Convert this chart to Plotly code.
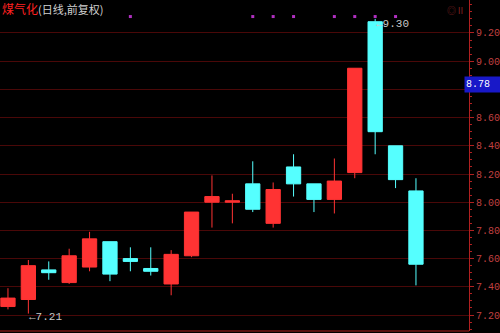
import plotly.graph_objects as go

days = list(range(21))
opens  = [7.26, 7.31, 7.52, 7.43, 7.54, 7.72, 7.60, 7.53, 7.42, 7.62, 8.00, 8.00, 8.13, 7.85, 8.25, 8.13, 8.02, 8.21, 9.28, 8.40, 8.08]
highs  = [7.39, 7.59, 7.58, 7.67, 7.79, 7.72, 7.68, 7.68, 7.66, 7.93, 8.19, 8.06, 8.29, 8.14, 8.34, 8.13, 8.31, 8.95, 9.30, 8.40, 8.17]
lows   = [7.24, 7.21, 7.45, 7.42, 7.51, 7.44, 7.51, 7.48, 7.34, 7.61, 7.82, 7.85, 7.93, 7.82, 8.04, 7.93, 7.92, 8.17, 8.34, 8.10, 7.41]
closes = [7.32, 7.55, 7.50, 7.62, 7.74, 7.49, 7.58, 7.51, 7.63, 7.93, 8.04, 8.01, 7.95, 8.09, 8.13, 8.02, 8.15, 8.95, 8.50, 8.16, 7.56]
marker_days = [6, 12, 13, 14, 16, 17, 18, 19]
tick_vals = [7.20, 7.40, 7.60, 7.80, 8.00, 8.20, 8.40, 8.60, 8.80, 9.00, 9.20]
# 8.80 label is hidden under the current-price box in the reference
tick_text = ["7.20", "7.40", "7.60", "7.80", "8.00", "8.20", "8.40", "8.60", "", "9.00", "9.20"]
current_price = 8.78
max_day, max_price = 18, 9.30
min_day, min_price = 1, 7.21
title_name = "煤气化"
title_sub = "(日线,前复权)"

RED = "#ff3333"
CYAN = "#55ffff"
AXIS = "#b02020"
GRID = "#4a0808"
LABEL = "#c04040"

fig = go.Figure()
fig.add_trace(go.Candlestick(
    x=days, open=opens, high=highs, low=lows, close=closes,
    increasing=dict(line=dict(color=RED, width=1), fillcolor=RED),
    decreasing=dict(line=dict(color=CYAN, width=1), fillcolor=CYAN),
    whiskerwidth=0, hoverinfo="skip", showlegend=False,
))
fig.add_trace(go.Scatter(
    x=marker_days, y=[0.95] * len(marker_days), yaxis="y2", mode="markers",
    marker=dict(symbol="square", size=3, color="#b030c0"),
    hoverinfo="skip", showlegend=False,
))

fig.update_layout(
    width=500, height=333,
    margin=dict(l=0, r=31, t=0, b=2),
    paper_bgcolor="black", plot_bgcolor="black",
    boxgap=0.0,
    xaxis=dict(range=[-0.39, 22.6], visible=False, rangeslider=dict(visible=False), fixedrange=True),
    yaxis=dict(
        range=[7.0865, 9.434], side="right", tickvals=tick_vals, ticktext=tick_text,
        showgrid=True, gridcolor=GRID, gridwidth=1, zeroline=False,
        showline=True, linecolor=AXIS, linewidth=1,
        ticks="outside", ticklen=4, tickcolor=AXIS,
        tickfont=dict(family="Liberation Mono", size=10, color=LABEL),
        minor=dict(ticks="outside", ticklen=2, tickcolor=AXIS, dtick=0.05, showgrid=False),
    ),
    yaxis2=dict(range=[0, 1], overlaying="y", visible=False, fixedrange=True),
    font=dict(family="Noto Sans CJK SC"),
)

# bottom border line
fig.add_shape(type="line", xref="paper", yref="paper", x0=0, x1=1, y0=0, y1=0,
              line=dict(color=AXIS, width=1))

fig.add_annotation(
    x=0, y=1, xref="paper", yref="paper", xanchor="left", yanchor="top",
    text=f"<span style='color:#ff2020'>{title_name}</span><span style='color:#d0d0d0;font-size:11px'>{title_sub}</span>",
    showarrow=False, font=dict(size=12, family="Noto Sans CJK SC"), yshift=2,
)
fig.add_annotation(
    x=max_day, y=max_price, xanchor="left", yanchor="middle", yshift=-5, xshift=-1,
    text=f"←{max_price:.2f}", showarrow=False,
    font=dict(family="Liberation Mono", size=11, color="#c8c8c8"),
)
fig.add_annotation(
    x=min_day, y=min_price, xanchor="left", yanchor="middle", yshift=-3, xshift=-1,
    text=f"←{min_price:.2f}", showarrow=False,
    font=dict(family="Liberation Mono", size=11, color="#c8c8c8"),
)
fig.add_annotation(
    x=1, y=current_price, xref="paper", yref="y", xanchor="left", yanchor="middle",
    xshift=-5, yshift=8, text=f"{current_price:.2f}", showarrow=False,
    bgcolor="#1818c8", width=36, height=13, align="left",
    font=dict(family="Liberation Mono", size=10, color="white"),
)
fig.add_annotation(
    x=1, y=1, xref="paper", yref="paper", xanchor="right", yanchor="top",
    xshift=-2, yshift=-2, text="◎Ⅱ", showarrow=False,
    font=dict(size=9, color="#802020"),
)

fig.write_html("out.html")
